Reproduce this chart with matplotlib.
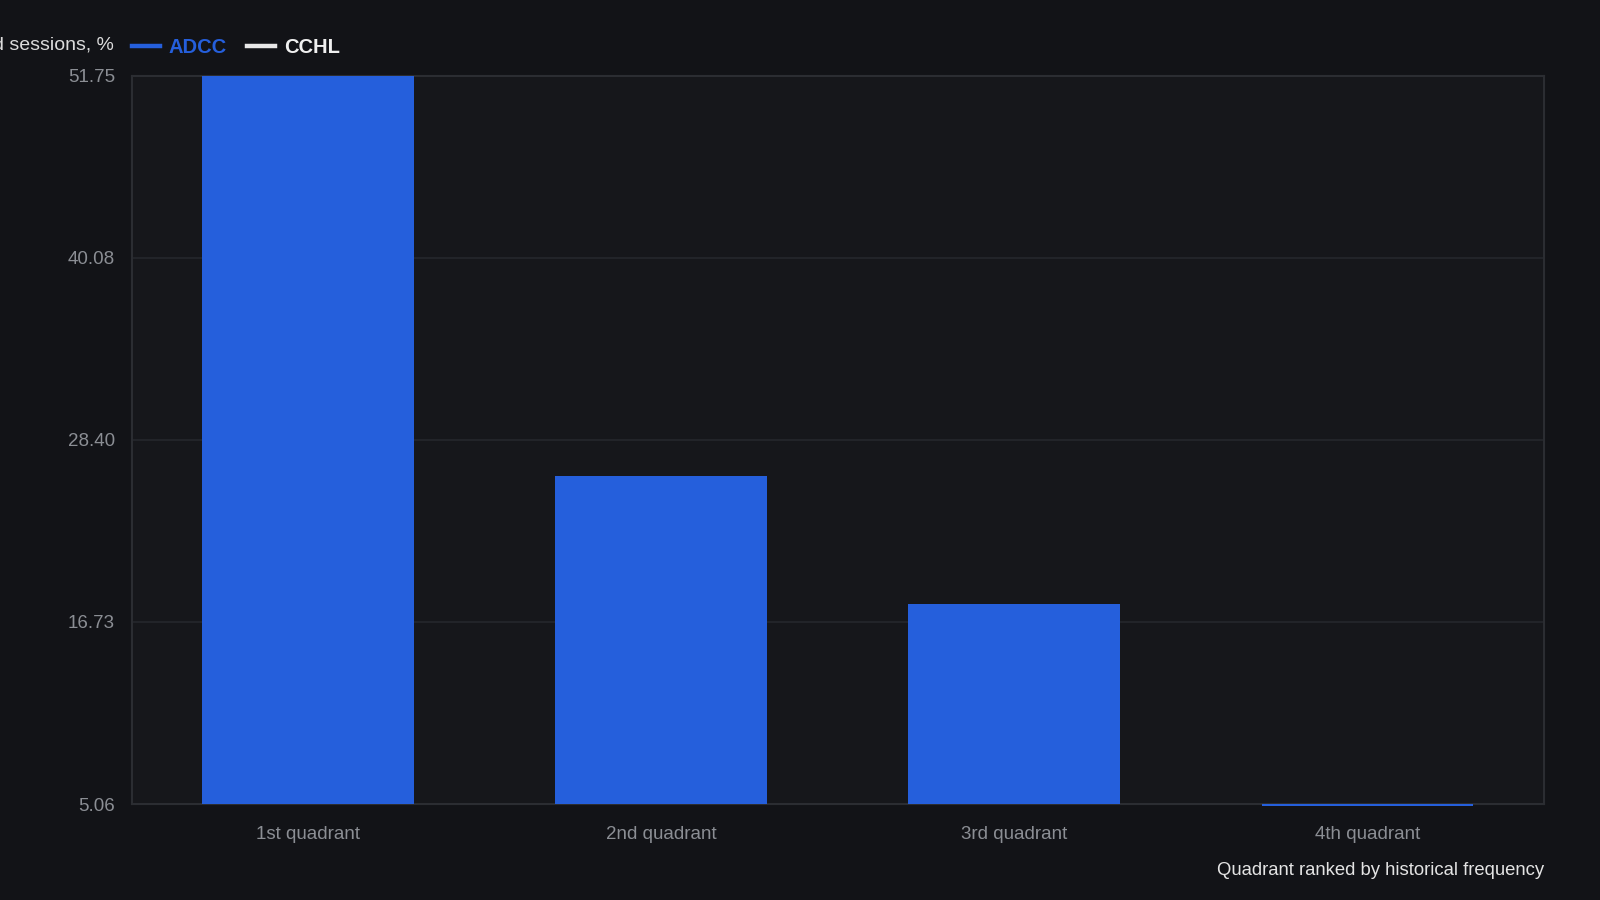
import numpy as np
import matplotlib.pyplot as plt
from matplotlib.lines import Line2D

# chart data
categories = ['1st quadrant', '2nd quadrant', '3rd quadrant', '4th quadrant']
adcc_values = [51.75, 26.08, 17.90, 4.95]
y_ticks = [5.06, 16.73, 28.40, 40.08, 51.75]
y_label = 'd sessions, %'
x_label = 'Quadrant ranked by historical frequency'
series_names = ['ADCC', 'CCHL']

bg = '#121317'
face = '#16171b'
blue = '#255fdc'
grid = '#25272c'
tickc = '#8b8e94'

plt.rcParams['font.family'] = ['Liberation Sans', 'DejaVu Sans']

fig = plt.figure(figsize=(16, 9), dpi=100, facecolor=bg)
ax = fig.add_axes([0.0823, 0.1066, 0.8827, 0.8095])
ax.set_facecolor(face)

ymin, ymax = y_ticks[0], y_ticks[-1]
x = np.arange(len(categories))
heights = np.array(adcc_values) - ymin
ax.bar(x, heights, bottom=ymin, width=0.6, color=blue, zorder=3, clip_on=False)

ax.set_xlim(-0.5, len(categories) - 0.5)
ax.set_ylim(ymin, ymax)
ax.set_yticks(y_ticks)
ax.set_yticklabels([f'{v:.2f}' for v in y_ticks])
ax.set_xticks(x)
ax.set_xticklabels(categories)
ax.tick_params(axis='both', length=0, colors=tickc, labelsize=13.5)
ax.tick_params(axis='x', pad=16)
ax.tick_params(axis='y', pad=12)
ax.yaxis.grid(True, color=grid, linewidth=1.2, zorder=0)
ax.xaxis.grid(False)
for s in ax.spines.values():
    s.set_color('#2b2d32')
    s.set_linewidth(1.5)

# x axis title, bottom right
fig.text(0.965, 0.028, x_label, ha='right', va='baseline', color='#e4e4e4', fontsize=13.3)

# y label and legend along the top
fig.text(0.0710, 0.945, y_label, ha='right', va='baseline', color='#dcdcdc', fontsize=14)
handles = [Line2D([], [], color=blue, lw=3.2), Line2D([], [], color='#e8e8e8', lw=3.2)]
leg = fig.legend(handles, series_names, loc='center left', bbox_to_anchor=(0.0823, 0.947),
                 ncol=2, frameon=False, fontsize=14.5, handlelength=1.4, handletextpad=0.45,
                 columnspacing=1.0, borderaxespad=0, borderpad=0)
for t, c in zip(leg.get_texts(), [blue, '#f0f0f0']):
    t.set_color(c)
    t.set_fontweight('bold')

fig.savefig('out.png', dpi=100, facecolor=bg)
